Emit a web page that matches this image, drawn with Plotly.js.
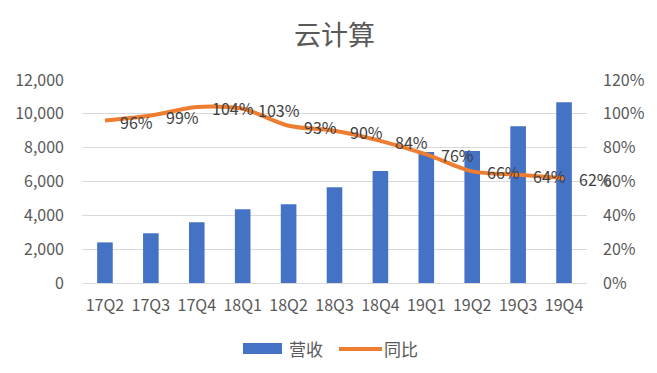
<!DOCTYPE html>
<html>
<head>
<meta charset="utf-8">
<script src="https://cdn.plot.ly/plotly-3.0.1.min.js"></script>
<style>html,body{margin:0;padding:0;background:#fff;}#chart{width:657px;height:373px;}</style>
</head>
<body>
<div id="chart"></div>
<script>
const categories = ["17Q2","17Q3","17Q4","18Q1","18Q2","18Q3","18Q4","19Q1","19Q2","19Q3","19Q4"];
const revenue = [2400, 2940, 3590, 4360, 4650, 5660, 6620, 7740, 7800, 9260, 10680];
const yoy = [0.96, 0.99, 1.04, 1.03, 0.93, 0.90, 0.84, 0.76, 0.66, 0.64, 0.62];
const seriesNames = ["营收", "同比"];
const titleText = "云计算";

const FONT = '"Noto Sans CJK SC", "Noto Sans", sans-serif';
const GREY = '#595959';

const bars = {
  type: 'bar', x: categories, y: revenue, name: seriesNames[0],
  marker: {color: '#4472C4'}, width: 0.34, yaxis: 'y', hoverinfo: 'none'
};
const line = {
  type: 'scatter', mode: 'lines', x: categories, y: yoy, name: seriesNames[1],
  line: {color: '#ED7D31', width: 4, shape: 'spline', smoothing: 0.8}, yaxis: 'y2', hoverinfo: 'none'
};

const labelAnns = categories.map((c, i) => ({
  x: c, y: yoy[i], xref: 'x', yref: 'y2',
  text: Math.round(yoy[i] * 100) + '%', showarrow: false,
  xanchor: 'left', yanchor: 'middle', xshift: 13, yshift: -1,
  font: {family: FONT, size: 16, color: '#404040'}
}));

const legendAnns = [
  {x: 0.405, y: -0.325, xref: 'paper', yref: 'paper', text: seriesNames[0], showarrow: false,
   xanchor: 'left', yanchor: 'middle', font: {family: FONT, size: 17, color: GREY}},
  {x: 0.595, y: -0.325, xref: 'paper', yref: 'paper', text: seriesNames[1], showarrow: false,
   xanchor: 'left', yanchor: 'middle', font: {family: FONT, size: 17, color: GREY}}
];

const layout = {
  width: 657, height: 373,
  margin: {l: 82, r: 70, t: 80, b: 90},
  paper_bgcolor: '#fff', plot_bgcolor: '#fff',
  showlegend: false,
  title: {text: titleText, x: 0.5, xref: 'paper', y: 0.905, yanchor: 'middle', font: {family: FONT, size: 27, color: GREY}},
  font: {family: FONT, size: 16, color: GREY},
  xaxis: {type: 'category', showgrid: false, zeroline: false, showline: true, linecolor: '#D9D9D9', linewidth: 1,
          ticks: '', tickfont: {family: FONT, size: 16, color: GREY}, range: [-0.5, 10.5], ticklabelstandoff: 8},
  yaxis: {range: [0, 12000], dtick: 2000, tickformat: ',d', showgrid: true, gridcolor: '#D9D9D9', gridwidth: 1,
          zeroline: false, showline: false, ticks: '', tickfont: {family: FONT, size: 16, color: GREY}, ticklabelstandoff: 17},
  yaxis2: {range: [0, 1.2], dtick: 0.2, tickformat: '.0%', overlaying: 'y', side: 'right', showgrid: false,
           zeroline: false, showline: false, ticks: '', tickfont: {family: FONT, size: 16, color: GREY}, ticklabelstandoff: 15},
  annotations: labelAnns.concat(legendAnns),
  shapes: [
    {type: 'rect', xref: 'paper', yref: 'paper', x0: (243-82)/505, x1: (282-82)/505,
     y0: (283-354)/203, y1: (283-343)/203, fillcolor: '#4472C4', line: {width: 0}},
    {type: 'line', xref: 'paper', yref: 'paper', x0: (339-82)/505, x1: (382-82)/505,
     y0: (283-349)/203, y1: (283-349)/203, line: {color: '#ED7D31', width: 4}}
  ]
};

Plotly.newPlot('chart', [bars, line], layout, {displayModeBar: false, staticPlot: true});
</script>
</body>
</html>
